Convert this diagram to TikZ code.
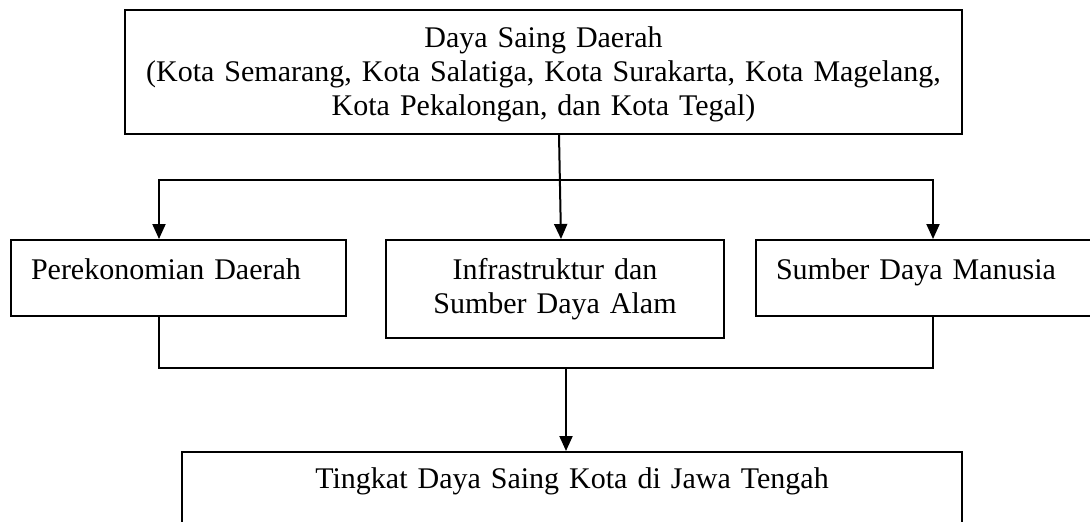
\documentclass[tikz,border=0pt]{standalone}
\usepackage{fontspec}
\setmainfont{Liberation Serif}
\usetikzlibrary{arrows.meta}
\tikzstyle{kotak} = [rectangle, draw=black, line width=0.8pt, anchor=north west, inner xsep=8pt, inner ysep=0pt, font=\fontsize{12pt}{13.6pt}\selectfont]
\tikzstyle{panah} = [-{Triangle[length=6pt,width=5.2pt]}, line width=0.8pt]

\begin{document}
\begin{tikzpicture}[x=0.4pt,y=-0.4pt]
        \clip (0,0) rectangle (1090,521);

        %% kotak
        \node (atas) [kotak, text width=318.8pt, align=center, text height=14.8pt, text depth=34.8pt] at (124,9) {Daya Saing Daerah\\
            (Kota Semarang, Kota Salatiga, Kota Surakarta, Kota Magelang,\\
            Kota Pekalongan, dan Kota Tegal)};

        \node (kiri) [kotak, text width=118pt, align=left, text height=15.6pt, text depth=14.8pt] at (10,239) {Perekonomian Daerah};
        \node (tengah) [kotak, text width=119.2pt, align=center, text height=15.6pt, text depth=23.6pt] at (385,239) {Infrastruktur dan\\
            Sumber Daya Alam};
        \node (kanan) [kotak, text width=126pt, align=left, text height=15.6pt, text depth=14.8pt] at (755,239) {Sumber Daya Manusia};

        \node (bawah) [kotak, text width=296pt, align=center, text height=14.4pt, text depth=32pt] at (181,451) {Tingkat Daya Saing Kota di Jawa Tengah};

        %% hubungan
        \coordinate (cabang) at (560,180);
        \coordinate (gabung) at (566,368);

        \draw[panah] (atas.south -| 559,0) -- (tengah.north -| 561,0);
        \draw[panah] (cabang) -| (kiri.north -| 159,0);
        \draw[panah] (cabang) -| (kanan.north -| 933,0);

        \draw[line width=0.8pt] (kiri.south -| 159,0) |- (gabung) -| (kanan.south -| 933,0);
        \draw[panah] (gabung) -- (bawah.north -| gabung);

    \end{tikzpicture}
\end{document}
